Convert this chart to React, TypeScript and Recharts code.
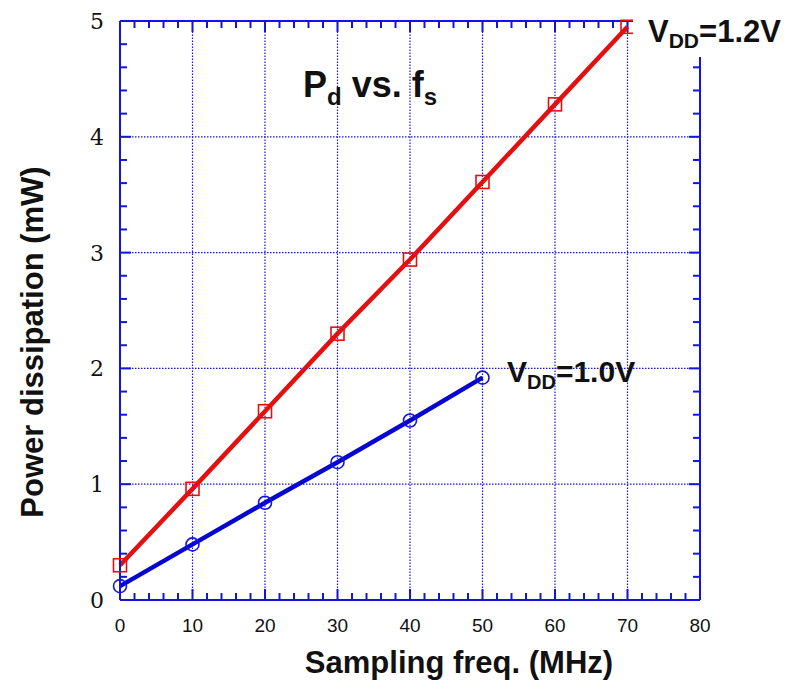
import React from "react"
import { LineChart, Line, XAxis, YAxis, ReferenceLine } from "recharts"

// sampling frequency (MHz)
const freq = [0, 10, 20, 30, 40, 50, 60, 70]
// power dissipation (mW) at VDD = 1.2 V
const pd12 = [0.3, 0.96, 1.63, 2.3, 2.94, 3.61, 4.28, 4.95]
// power dissipation (mW) at VDD = 1.0 V
const pd10 = [0.12, 0.48, 0.84, 1.19, 1.55, 1.92]

const xLabels = [0, 10, 20, 30, 40, 50, 60, 70, 80]
const yLabels = [0, 1, 2, 3, 4, 5]
const xTicks = Array.from({ length: 39 }, (_, i) => (i + 1) * 2)
const yTicks = Array.from({ length: 24 }, (_, i) => Math.round((i + 1) * 2) / 10)
const xGrid = [10, 20, 30, 40, 50, 60, 70]
const yGrid = [1, 2, 3, 4]

const data = freq.map((f, i) => ({
  f,
  v12: pd12[i],
  v10: i < pd10.length ? pd10[i] : null,
}))

const BLUE = "#1414e0"
const RED = "#e41010"
const LINE_BLUE = "#0606d0"

// tick lengths in data units (about 7px minor, 11px major)
const X_UNIT_PX = 7.25
const Y_UNIT_PX = 115.8
const isMajor = (v: number, step: number) => Math.abs(v / step - Math.round(v / step)) < 1e-6
const xLen = (v: number) => (isMajor(v, 10) ? 11 : 7) / Y_UNIT_PX
const yLen = (v: number) => (isMajor(v, 1) ? 11 : 7) / X_UNIT_PX

const BottomLabel = (props: any) => {
  const { x, y, payload, index } = props
  return (
    <text key={`b-${index}`} x={x} y={y + 32} textAnchor="middle" fontFamily="Liberation Sans, Arial" fontSize={19} fill="#111">
      {String(payload.value)}
    </text>
  )
}

const LeftLabel = (props: any) => {
  const { x, y, payload, index } = props
  return (
    <text key={`l-${index}`} x={x - 16} y={y + 8} textAnchor="end" fontFamily="DejaVu Serif, serif" fontSize={22} fill="#111">
      {String(payload.value)}
    </text>
  )
}

const Square = (props: any) => {
  const { cx, cy, index } = props
  if (cx == null || cy == null) return <g key={`s-${index}`} />
  return <rect key={`s-${index}`} x={cx - 6.5} y={cy - 6.5} width={13} height={13} fill="none" stroke={RED} strokeWidth={1.6} />
}

const Circle = (props: any) => {
  const { cx, cy, index } = props
  if (cx == null || cy == null) return <g key={`c-${index}`} />
  return <circle key={`c-${index}`} cx={cx} cy={cy} r={6.5} fill="none" stroke={BLUE} strokeWidth={1.6} />
}

const bold = "Liberation Sans, Arial, sans-serif"

export default function App() {
  return (
    <div style={{ position: "relative", width: 794, height: 682, background: "#fff" }}>
      <style>{`body{margin:0}`}</style>
      <LineChart width={794} height={682} data={data} margin={{ top: 20, right: 93, bottom: 0, left: 0 }}>
        <XAxis dataKey="f" type="number" domain={[0, 80]} ticks={xLabels} interval={0} height={82} tickSize={0} tickMargin={0} tickLine={false} axisLine={{ stroke: BLUE, strokeWidth: 2 }} tick={BottomLabel} />
        <XAxis xAxisId="top" dataKey="f" type="number" orientation="top" domain={[0, 80]} ticks={xLabels} height={1} tickLine={false} tick={false} axisLine={{ stroke: BLUE, strokeWidth: 2 }} />
        <YAxis type="number" domain={[0, 5]} ticks={yLabels} interval={0} width={120} tickSize={0} tickMargin={0} tickLine={false} axisLine={{ stroke: BLUE, strokeWidth: 2 }} tick={LeftLabel} />
        <YAxis yAxisId="right" orientation="right" type="number" domain={[0, 5]} ticks={yLabels} width={1} tickLine={false} tick={false} axisLine={{ stroke: BLUE, strokeWidth: 2 }} />
        {xGrid.map((g) => (
          <ReferenceLine key={`gx${g}`} x={g} stroke={BLUE} strokeWidth={1.2} strokeDasharray="1.5 1.5" />
        ))}
        {yGrid.map((g) => (
          <ReferenceLine key={`gy${g}`} y={g} stroke={BLUE} strokeWidth={1.2} strokeDasharray="1.5 1.5" />
        ))}
        {xTicks.map((t) => (
          <ReferenceLine key={`tb${t}`} segment={[{ x: t, y: 0 }, { x: t, y: xLen(t) }]} stroke={BLUE} strokeWidth={2} />
        ))}
        {xTicks.map((t) => (
          <ReferenceLine key={`tt${t}`} segment={[{ x: t, y: 5 }, { x: t, y: 5 - xLen(t) }]} stroke={BLUE} strokeWidth={2} />
        ))}
        {yTicks.map((t) => (
          <ReferenceLine key={`tl${t}`} segment={[{ x: 0, y: t }, { x: yLen(t), y: t }]} stroke={BLUE} strokeWidth={2} />
        ))}
        {yTicks.map((t) => (
          <ReferenceLine key={`tr${t}`} segment={[{ x: 80, y: t }, { x: 80 - yLen(t), y: t }]} stroke={BLUE} strokeWidth={2} />
        ))}
        <Line dataKey="v12" type="linear" stroke={RED} strokeWidth={4.5} dot={Square} activeDot={false} isAnimationActive={false} />
        <Line dataKey="v10" type="linear" stroke={LINE_BLUE} strokeWidth={4.5} dot={Circle} activeDot={false} isAnimationActive={false} />
      </LineChart>
      <svg width={794} height={682} style={{ position: "absolute", left: 0, top: 0, pointerEvents: "none" }}>
        <rect x={633} y={0} width={161} height={57} fill="#fff" />
        <text x={648} y={42} fontFamily={bold} fontWeight="bold" fontSize={31} fill="#111">
          V<tspan fontSize={21} dy={6}>DD</tspan>
          <tspan dy={-6}>=1.2V</tspan>
        </text>
        <text x={507} y={382} fontFamily={bold} fontWeight="bold" fontSize={30} fill="#111">
          V<tspan fontSize={20} dy={7}>DD</tspan>
          <tspan dy={-7}>=1.0V</tspan>
        </text>
        <text x={303} y={97} fontFamily={bold} fontWeight="bold" fontSize={36} fill="#111">
          P<tspan fontSize={24} dy={8}>d</tspan>
          <tspan dy={-8}> vs. f</tspan>
          <tspan fontSize={24} dy={8}>s</tspan>
        </text>
        <text x={459} y={673} textAnchor="middle" fontFamily={bold} fontWeight="bold" fontSize={31} fill="#111">
          Sampling freq. (MHz)
        </text>
        <text x={43} y={342} textAnchor="middle" transform="rotate(-90, 43, 342)" fontFamily={bold} fontWeight="bold" fontSize={31} fill="#111">
          Power dissipation (mW)
        </text>
      </svg>
    </div>
  )
}
